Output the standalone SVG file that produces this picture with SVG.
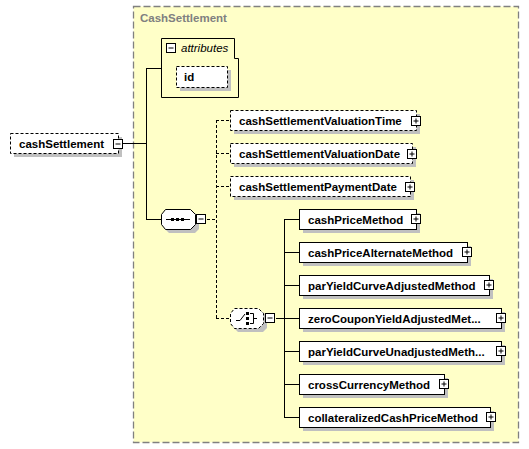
<svg xmlns="http://www.w3.org/2000/svg" width="529" height="449" viewBox="0 0 529 449">
<style>
.t{font-family:"Liberation Sans",Arial,sans-serif;font-size:11.5px;font-weight:bold;fill:#000}
.sh{fill:#c0c0c0}
.bx{fill:#fff;stroke:#000;stroke-width:1}
.opt{fill:#fff;stroke:#000;stroke-width:1;stroke-dasharray:3,2}
.ln{stroke:#000;stroke-width:1;fill:none}
.dl{stroke:#000;stroke-width:1;fill:none;stroke-dasharray:3,2}
.ic{fill:#fff;stroke:#000;stroke-width:1}
</style>
<defs>
<g id="plus"><rect class="ic" x="0.5" y="0.5" width="9" height="9"/><path class="ln" d="M2.5 5H7.5M5 2.5V7.5"/></g>
<g id="minus"><rect class="ic" x="0.5" y="0.5" width="9" height="9"/><path class="ln" d="M2.5 5H7.5"/></g>
</defs>
<rect width="529" height="449" fill="#fff"/>
<g id="container">
<rect x="133.5" y="6.5" width="385" height="436" fill="#ffffc8" stroke="#808080" stroke-width="1.3" stroke-dasharray="7,3"/>
<text x="140" y="22" style="font-family:'Liberation Sans',Arial,sans-serif;font-size:11.5px;font-weight:bold;fill:#808080">CashSettlement</text>
</g>
<g id="connectors">
<path class="ln" d="M123 143.5H146.5M146.5 68V219.5M146 68.5H161M146 219.5H161"/>
<path class="dl" d="M207 219.5H216.5M216.5 120V318.5M216 120.5H230M216 153.5H230M216 186.5H230M216 318.5H230"/>
<path class="ln" d="M276 318.5H284.5M284.5 219V417.5M284 219.5H299M284 252.5H299M284 285.5H299M284 318.5H299M284 351.5H299M284 384.5H299M284 417.5H299"/>
</g>
<g id="node-cashSettlement">
<rect class="sh" x="14" y="137" width="108" height="20"/>
<rect class="opt" x="10.5" y="133.5" width="108" height="20"/>
<text class="t" x="19" y="148">cashSettlement</text>
<use href="#minus" x="113" y="139"/>
</g>
<g id="node-attributes">
<path class="ln" d="M161.5 38.5H234.5V58.5H238.5V97.5H161.5Z" fill="#fff"/>
<use href="#minus" x="166" y="43"/>
<text x="181" y="52" style="font-family:'Liberation Sans',Arial,sans-serif;font-size:11.5px;font-style:italic;fill:#000">attributes</text>
<rect class="sh" x="180" y="70" width="51" height="21"/>
<rect class="opt" x="176.5" y="66.5" width="51" height="21"/>
<text class="t" x="184" y="81">id</text>
</g>
<g id="node-sequence">
<path class="sh" d="M169 213H195L199 217V229L195 233H169L165 229V217Z"/>
<path class="bx" d="M165.5 209.5H190.5L195.5 214.5V224.5L190.5 229.5H165.5L161.5 224.5V214.5Z"/>
<path class="ln" d="M166 219.5H190"/>
<rect x="171" y="218" width="3" height="3" fill="#000"/>
<rect x="176" y="218" width="3" height="3" fill="#000"/>
<rect x="181" y="218" width="3" height="3" fill="#000"/>
<use href="#minus" x="196" y="214"/>
</g>
<g id="node-choice">
<path class="sh" d="M238 312H263L267 316V328L263 332H238L234 328V316Z"/>
<path class="opt" d="M234.5 308.5H258.5L263.5 313.5V323.5L258.5 328.5H234.5L230.5 323.5V313.5Z"/>
<path class="ln" d="M236 320.5H240L245 314"/>
<rect x="246" y="312" width="3" height="3" fill="#000"/>
<rect x="246" y="317" width="3" height="3" fill="#000"/>
<rect x="246" y="322" width="3" height="3" fill="#000"/>
<path class="ln" d="M250 313.5H253.5V323.5H250M253.5 318.5H257"/>
<use href="#minus" x="265" y="313"/>
</g>
<g id="node-cashSettlementValuationTime">
<rect class="sh" x="234" y="114" width="186" height="20"/>
<rect class="opt" x="230.5" y="110.5" width="186" height="20"/>
<text class="t" x="239" y="125">cashSettlementValuationTime</text>
<use href="#plus" x="411" y="116"/>
</g>
<g id="node-cashSettlementValuationDate">
<rect class="sh" x="234" y="147" width="182" height="20"/>
<rect class="opt" x="230.5" y="143.5" width="182" height="20"/>
<text class="t" x="239" y="158">cashSettlementValuationDate</text>
<use href="#plus" x="407" y="149"/>
</g>
<g id="node-cashSettlementPaymentDate">
<rect class="sh" x="234" y="180" width="180" height="20"/>
<rect class="opt" x="230.5" y="176.5" width="180" height="20"/>
<text class="t" x="239" y="191">cashSettlementPaymentDate</text>
<use href="#plus" x="405" y="182"/>
</g>
<g id="node-cashPriceMethod">
<rect class="sh" x="303" y="213" width="117" height="20"/>
<rect class="bx" x="299.5" y="209.5" width="117" height="20"/>
<text class="t" x="308" y="224">cashPriceMethod</text>
<use href="#plus" x="411" y="214"/>
</g>
<g id="node-cashPriceAlternateMethod">
<rect class="sh" x="303" y="246" width="168" height="20"/>
<rect class="bx" x="299.5" y="242.5" width="168" height="20"/>
<text class="t" x="308" y="257">cashPriceAlternateMethod</text>
<use href="#plus" x="462" y="247"/>
</g>
<g id="node-parYieldCurveAdjustedMethod">
<rect class="sh" x="303" y="279" width="190" height="20"/>
<rect class="bx" x="299.5" y="275.5" width="190" height="20"/>
<text class="t" x="308" y="290">parYieldCurveAdjustedMethod</text>
<use href="#plus" x="484" y="280"/>
</g>
<g id="node-zeroCouponYieldAdjustedMethod">
<rect class="sh" x="303" y="312" width="202" height="20"/>
<rect class="bx" x="299.5" y="308.5" width="202" height="20"/>
<text class="t" x="308" y="323">zeroCouponYieldAdjustedMet...</text>
<use href="#plus" x="496" y="313"/>
</g>
<g id="node-parYieldCurveUnadjustedMethod">
<rect class="sh" x="303" y="345" width="202" height="20"/>
<rect class="bx" x="299.5" y="341.5" width="202" height="20"/>
<text class="t" x="308" y="356">parYieldCurveUnadjustedMeth...</text>
<use href="#plus" x="496" y="346"/>
</g>
<g id="node-crossCurrencyMethod">
<rect class="sh" x="303" y="378" width="145" height="20"/>
<rect class="bx" x="299.5" y="374.5" width="145" height="20"/>
<text class="t" x="308" y="389">crossCurrencyMethod</text>
<use href="#plus" x="439" y="379"/>
</g>
<g id="node-collateralizedCashPriceMethod">
<rect class="sh" x="303" y="411" width="191" height="20"/>
<rect class="bx" x="299.5" y="407.5" width="191" height="20"/>
<text class="t" x="308" y="422">collateralizedCashPriceMethod</text>
<use href="#plus" x="486" y="412"/>
</g>
</svg>
